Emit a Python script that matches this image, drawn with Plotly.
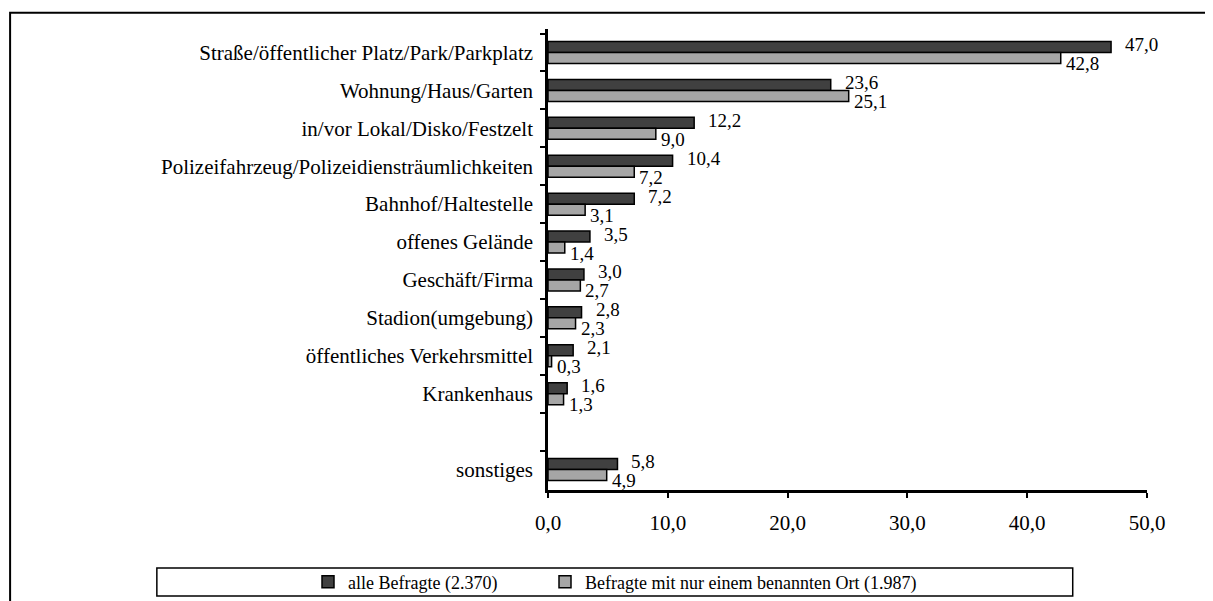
import plotly.graph_objects as go

# categories top to bottom (blank slot before "sonstiges")
categories = [
    "Straße/öffentlicher Platz/Park/Parkplatz",
    "Wohnung/Haus/Garten",
    "in/vor Lokal/Disko/Festzelt",
    "Polizeifahrzeug/Polizeidiensträumlichkeiten",
    "Bahnhof/Haltestelle",
    "offenes Gelände",
    "Geschäft/Firma",
    "Stadion(umgebung)",
    "öffentliches Verkehrsmittel",
    "Krankenhaus",
    " ",
    "sonstiges",
]
alle = [47.0, 23.6, 12.2, 10.4, 7.2, 3.5, 3.0, 2.8, 2.1, 1.6, None, 5.8]
nur_einer = [42.8, 25.1, 9.0, 7.2, 3.1, 1.4, 2.7, 2.3, 0.3, 1.3, None, 4.9]
series_names = ["alle Befragte (2.370)", "Befragte mit nur einem benannten Ort (1.987)"]
x_ticks = [0, 10, 20, 30, 40, 50]

FONT = "Liberation Serif"


def de(v):
    return f"{v:.1f}".replace(".", ",")


fig = go.Figure()
fig.add_trace(go.Bar(
    y=categories, x=alle, orientation="h", name=series_names[0], legend="legend",
    marker=dict(color="#404040", line=dict(color="black", width=1.5)),
))
fig.add_trace(go.Bar(
    y=categories, x=nur_einer, orientation="h", name=series_names[1], legend="legend2",
    marker=dict(color="#a6a6a6", line=dict(color="black", width=1.5)),
))

# value labels, Excel-style: dark beside its bar, light below-right
for cat, a, b in zip(categories, alle, nur_einer):
    if a is not None:
        fig.add_annotation(x=a, y=cat, text=de(a), showarrow=False,
                           xanchor="left", xshift=12, yshift=8,
                           font=dict(family=FONT, size=19, color="black"))
    if b is not None:
        fig.add_annotation(x=b, y=cat, text=de(b), showarrow=False,
                           xanchor="left", xshift=3, yshift=-11,
                           font=dict(family=FONT, size=19, color="black"))

# legend box and outer frame
fig.add_shape(type="rect", xref="paper", yref="paper",
              x0=-0.653, x1=0.876, y0=-0.169, y1=-0.23,
              line=dict(color="black", width=1.5), fillcolor="rgba(0,0,0,0)")
fig.add_shape(type="rect", xref="paper", yref="paper",
              x0=-0.898, x1=1.3, y0=1.035, y1=-0.4,
              line=dict(color="black", width=2), fillcolor="rgba(0,0,0,0)")

legend_common = dict(orientation="h", xref="container", yref="container",
                     xanchor="left", yanchor="middle", y=0.045,
                     font=dict(family=FONT, size=18), bgcolor="rgba(0,0,0,0)")

# page body adds 8px offset, so margins are shifted accordingly
fig.update_layout(
    width=1213, height=601,
    margin=dict(l=540, r=74, t=21, b=119),
    paper_bgcolor="white", plot_bgcolor="white",
    barmode="group", bargap=0.42, bargroupgap=0,
    font=dict(family=FONT, size=21, color="black"),
    showlegend=True,
    legend=dict(x=300 / 1213, **legend_common),
    legend2=dict(x=537 / 1213, **legend_common),
    xaxis=dict(range=[0, 50], tickvals=x_ticks, ticktext=[de(v) for v in x_ticks],
               showgrid=False, zeroline=False, showline=True, linecolor="black",
               linewidth=2.5, ticks="outside", ticklen=5, tickwidth=2,
               tickcolor="black", ticklabelstandoff=7, automargin=False),
    yaxis=dict(autorange="reversed", showgrid=False, zeroline=False,
               showline=True, linecolor="black", linewidth=2.5,
               ticks="outside", ticklen=5, tickwidth=2, tickcolor="black",
               tickson="boundaries", ticklabelstandoff=8, automargin=False),
)

fig.write_html("out.html")
